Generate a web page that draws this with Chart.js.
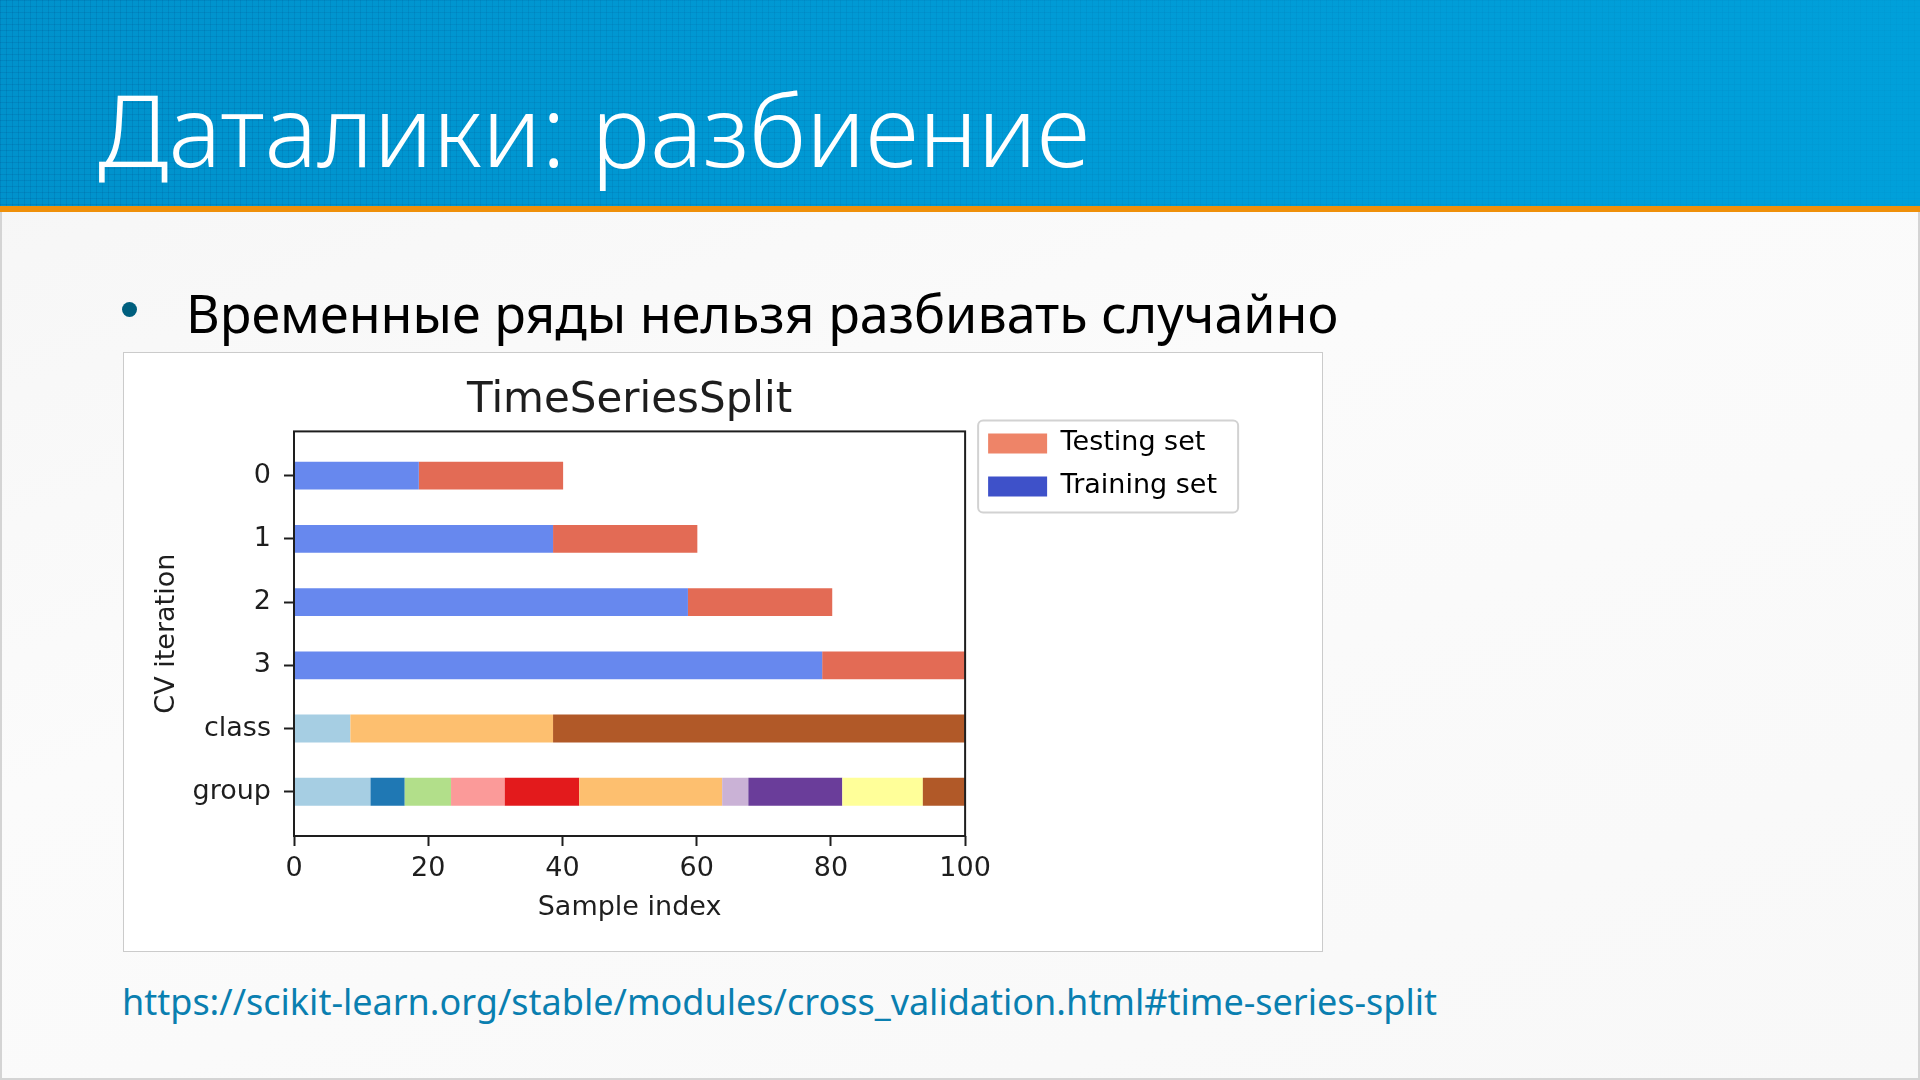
<!DOCTYPE html>
<html>
<head>
<meta charset="utf-8">
<script src="https://cdn.jsdelivr.net/npm/chart.js@4.4.0/dist/chart.umd.min.js"></script>
<style>
html, body { margin: 0; padding: 0; }
body {
  width: 1920px; height: 1080px; position: relative; overflow: hidden;
  background: linear-gradient(160deg, #f5f5f5 0%, #fbfbfb 45%, #f8f8f8 100%);
  font-family: "Noto Sans", "Open Sans", sans-serif;
}
#header {
  position: absolute; left: 0; top: 0; width: 1920px; height: 206px;
  background: linear-gradient(90deg, #0092cc, #009bd6 55%, #00a0da);
}
#grid {
  position: absolute; left: 0; top: 0; width: 100%; height: 100%;
  background-image:
    linear-gradient(rgba(0, 60, 120, .14) 1px, transparent 1px),
    linear-gradient(90deg, rgba(0, 60, 120, .14) 1px, transparent 1px);
  background-size: 6px 6px;
  -webkit-mask-image: linear-gradient(90deg, #000 0%, rgba(0,0,0,.55) 50%, rgba(0,0,0,.2) 100%);
}
#rule { position: absolute; left: 0; top: 206px; width: 1920px; height: 6px; background: #ef900a; }
#frame {
  position: absolute; left: 0; top: 212px; width: 1916px; height: 866px;
  border: 2px solid #d4d4d4; border-top: none;
}
#title {
  position: absolute; left: 98px; top: 61px; margin: 0;
  color: #fff; font-weight: 300; font-size: 99px; line-height: normal; white-space: nowrap;
}
#bullet {
  position: absolute; left: 122px; top: 302px; width: 15px; height: 15px;
  border-radius: 50%; background: #005f7e;
}
#lead {
  position: absolute; left: 186px; top: 277px; margin: 0;
  color: #000; font-size: 52px; line-height: normal; white-space: nowrap;
}
#box {
  position: absolute; left: 123px; top: 352px; width: 1198px; height: 598px;
  border: 1px solid #cbcbcb; background: #fff;
}
#link {
  position: absolute; left: 122px; top: 977px; margin: 0;
  color: #0a7fb0; font-size: 36px; line-height: normal; white-space: nowrap;
}
</style>
</head>
<body>
<div id="header"><div id="grid"></div></div>
<div id="rule"></div>
<div id="frame"></div>
<h1 id="title">Даталики: разбиение</h1>
<div id="bullet"></div>
<p id="lead">Временные ряды нельзя разбивать случайно</p>
<div id="box"><canvas id="chart" width="1198" height="598"></canvas></div>
<p id="link">https://scikit-learn.org/stable/modules/cross_validation.html#time-series-split</p>

<script>
// rows of the plot, top to bottom
const rowLabels = ["0", "1", "2", "3", "class", "group"];
// CV splits: training runs from 0, testing follows it
const trainEnd = [18.6, 38.6, 58.7, 78.7];
const testEnd = [40.1, 60.1, 80.2, 100];
// class / group bands, read as segment edges
const classEdges = [0, 8.4, 38.6, 100];
const classColors = ["#a6cee3", "#fdbf6f", "#b15928"];
const groupEdges = [0, 11.4, 16.5, 23.4, 31.4, 42.5, 63.8, 67.7, 81.7, 93.7, 100];
const groupColors = ["#a6cee3", "#1f78b4", "#b2df8a", "#fb9a99", "#e31a1c",
  "#fdbf6f", "#cab2d6", "#6a3d9a", "#ffff99", "#b15928"];
const xTicks = [0, 20, 40, 60, 80, 100];

let trainColor = "#6788ee";
let testColor = "#e36b55";
let font = { family: "DejaVu Sans", size: 27 };
let ink = "#1e1e1e";

function segments(edges, row) {
  let out = [];
  for (let i = 0; i < edges.length - 1; i++) {
    out.push({ x: [edges[i], edges[i + 1]], y: row + 0.5 });
  }
  return out;
}

// full box round the axes, like matplotlib spines
const spines = {
  id: "spines",
  afterDatasetsDraw(chart) {
    let a = chart.chartArea;
    let ctx = chart.ctx;
    ctx.save();
    ctx.strokeStyle = ink;
    ctx.lineWidth = 2;
    ctx.strokeRect(a.left, a.top, a.right - a.left, a.bottom - a.top);
    ctx.restore();
  }
};

// move the legend up next to the axes and give it a frame
const legendFrame = {
  id: "legendFrame",
  afterLayout(chart) {
    chart.legend.left = chart.chartArea.right + 7;
    chart.legend.top = chart.chartArea.top - 17.5;
  },
  afterDraw(chart) {
    let ctx = chart.ctx;
    let x = chart.legend.left + 6;
    let y = chart.chartArea.top - 11;
    ctx.save();
    ctx.strokeStyle = "#d2d2d2";
    ctx.lineWidth = 2;
    ctx.beginPath();
    ctx.roundRect(x, y, 260, 92, 5);
    ctx.stroke();
    ctx.restore();
  }
};

var ctx = document.getElementById("chart").getContext("2d");
var chart = new Chart(ctx, {
  type: "bar",
  data: {
    datasets: [
      {
        label: "Training set",
        data: trainEnd.map((v, i) => ({ x: [0, v], y: i + 0.5 })),
        backgroundColor: trainColor,
      },
      {
        label: "Testing set",
        data: trainEnd.map((v, i) => ({ x: [v, testEnd[i]], y: i + 0.5 })),
        backgroundColor: testColor,
      },
      {
        label: "class",
        data: segments(classEdges, 4),
        backgroundColor: classColors,
      },
      {
        label: "group",
        data: segments(groupEdges, 5),
        backgroundColor: groupColors,
      },
    ],
  },
  options: {
    indexAxis: "y",
    responsive: false,
    animation: false,
    datasets: {
      bar: { grouped: false, barPercentage: 0.44, categoryPercentage: 1, borderWidth: 0 },
    },
    layout: { padding: { left: 0, right: 102, top: 0, bottom: 0 } },
    scales: {
      x: {
        type: "linear",
        min: 0,
        max: 100,
        afterBuildTicks: (s) => { s.ticks = xTicks.map((v) => ({ value: v })); },
        afterFit: (s) => { s.height = 115; },
        grid: { drawOnChartArea: false, tickLength: 10, tickWidth: 2, tickColor: ink },
        border: { display: false },
        ticks: { font: font, color: ink, padding: 6.5, maxRotation: 0 },
        title: { display: true, text: "Sample index", font: font, color: ink, padding: { top: 0, bottom: 26.5 } },
      },
      y: {
        type: "linear",
        reverse: true,
        offset: false,
        bounds: "data",
        min: -0.2,
        max: 6.2,
        afterBuildTicks: (s) => { s.ticks = rowLabels.map((_, i) => ({ value: i + 0.5 })); },
        afterFit: (s) => { s.width = 170; },
        grid: { offset: false, drawOnChartArea: false, tickLength: 10, tickWidth: 2, tickColor: ink },
        border: { display: false },
        ticks: {
          font: font, color: ink, padding: 13, autoSkip: false,
          callback: (value, index) => rowLabels[index],
        },
        title: { display: true, text: "CV iteration", font: font, color: ink, padding: { top: 27, bottom: 0 } },
      },
    },
    plugins: {
      title: {
        display: true,
        text: "TimeSeriesSplit",
        fullSize: false,
        color: ink,
        font: { family: "DejaVu Sans", size: 42, weight: "normal" },
        padding: { top: 23, bottom: 5 },
      },
      legend: {
        position: "right",
        align: "start",
        fullSize: false,
        labels: {
          boxWidth: 59,
          boxHeight: 20,
          padding: 16,
          font: font,
          color: ink,
          generateLabels: () => [
            { text: "Testing set", fillStyle: "#ee8468", strokeStyle: "#ee8468", lineWidth: 0, hidden: false, datasetIndex: 1 },
            { text: "Training set", fillStyle: "#3e51c9", strokeStyle: "#3e51c9", lineWidth: 0, hidden: false, datasetIndex: 0 },
          ],
        },
      },
      tooltip: { enabled: false },
    },
  },
  plugins: [spines, legendFrame],
});
</script>
</body>
</html>
